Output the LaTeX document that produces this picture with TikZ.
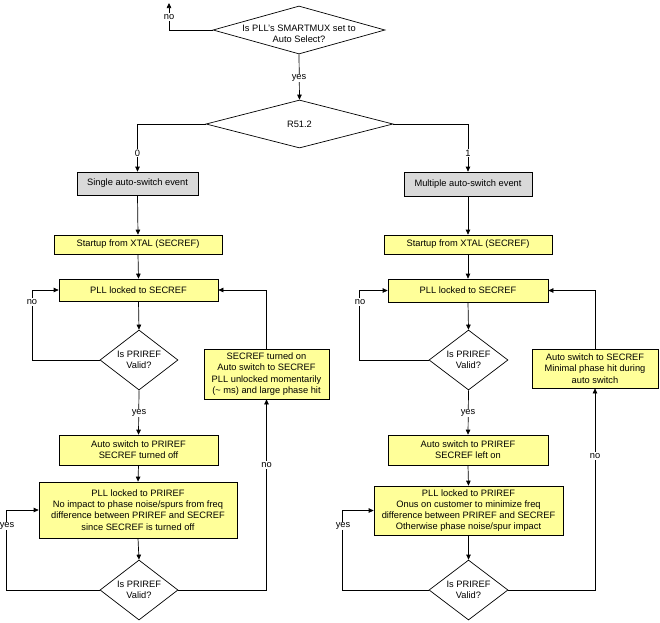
\documentclass[tikz,border=0pt]{standalone}
\usepackage{fontspec}
\setmainfont{Liberation Sans}
\usetikzlibrary{arrows.meta,shapes.geometric}
\definecolor{boxyellow}{HTML}{FFFF99}
\definecolor{boxgray}{HTML}{D9D9D9}
\tikzset{
  base/.style={draw=black, line width=0.7pt, inner sep=0pt, align=center,
    font=\fontsize{9.3}{11.2}\selectfont},
  ybox/.style={base, rectangle, fill=boxyellow},
  gbox/.style={base, rectangle, fill=boxgray},
  dia/.style={base, diamond, fill=white},
  txt/.style={inner sep=0pt, align=center, font=\fontsize{9.3}{11.2}\selectfont},
  lbl/.style={inner sep=1pt, fill=white, font=\fontsize{9.3}{11.2}\selectfont},
  arr/.style={draw=black, line width=0.7pt, -{Triangle[length=5pt,width=4.5pt]}},
  ln/.style={draw=black, line width=0.7pt}
}
\begin{document}
\begin{tikzpicture}[x=1pt,y=-1pt]
\useasboundingbox (0,0) rectangle (660,622);
% top decisions
\node[dia, minimum width=172pt, minimum height=48pt] (d0) at (299,30) {};
\node[txt] (d0t) at (299,34) {Is PLL's SMARTMUX set to\\Auto Select?};
\node[dia, minimum width=187pt, minimum height=48pt] (d1) at (299.5,124) {};
\node[txt] (d1t) at (299.5,124) {R51.2};
\coordinate (noend) at (169,3);
% gray boxes
\node[gbox, minimum width=121pt, minimum height=23pt] (gL) at (137.5,183.5) {Single auto-switch event};
\node[gbox, minimum width=128pt, minimum height=24pt] (gR) at (468,184) {Multiple auto-switch event};
% startup
\node[ybox, minimum width=168pt, minimum height=19pt] (sL) at (138,244.5) {Startup from XTAL (SECREF)};
\node[ybox, minimum width=168pt, minimum height=19pt] (sR) at (468,244.5) {Startup from XTAL (SECREF)};
% PLL locked to SECREF
\node[ybox, minimum width=159pt, minimum height=22pt] (pL) at (138.5,290) {PLL locked to SECREF};
\node[ybox, minimum width=160pt, minimum height=23pt] (pR) at (468,290.5) {PLL locked to SECREF};
% valid diamonds
\node[dia, minimum width=78pt, minimum height=60pt] (vL) at (139,360) {};
\node[txt] (vLt) at (139,360) {Is PRIREF\\Valid?};
\node[dia, minimum width=79pt, minimum height=60pt] (vR) at (468.5,360) {};
\node[txt] (vRt) at (468.5,360) {Is PRIREF\\Valid?};
% side boxes
\node[ybox, minimum width=125pt, minimum height=50pt] (xL) at (266.5,374) {SECREF turned on\\Auto switch to SECREF\\PLL unlocked momentarily\\(\textasciitilde{} ms) and large phase hit};
\node[ybox, minimum width=126pt, minimum height=39pt] (xR) at (595,368.5) {Auto switch to SECREF\\Minimal phase hit during\\auto switch};
% auto switch to PRIREF
\node[ybox, minimum width=159pt, minimum height=30pt] (aL) at (138.5,450) {Auto switch to PRIREF\\SECREF turned off};
\node[ybox, minimum width=160pt, minimum height=30pt] (aR) at (468,450) {Auto switch to PRIREF\\SECREF left on};
% PLL locked to PRIREF
\node[ybox, minimum width=198pt, minimum height=56pt] (bL) at (138,510) {PLL locked to PRIREF\\No impact to phase noise/spurs from freq\\difference between PRIREF and SECREF\\since SECREF is turned off};
\node[ybox, minimum width=189pt, minimum height=49pt] (bR) at (468.5,510.5) {PLL locked to PRIREF\\Onus on customer to minimize freq\\difference between PRIREF and SECREF\\Otherwise phase noise/spur impact};
% bottom diamonds
\node[dia, minimum width=78pt, minimum height=60pt] (wL) at (139,590) {};
\node[txt] (wLt) at (139,590) {Is PRIREF\\Valid?};
\node[dia, minimum width=79pt, minimum height=60pt] (wR) at (468.5,590) {};
\node[txt] (wRt) at (468.5,590) {Is PRIREF\\Valid?};

% connectors top
\draw[arr] (d0.west) -| (noend);
\node[lbl] at (169,17) {no};
\draw[arr] (d0.south) -- (d1.north);
\node[lbl] at (299,78) {yes};
\draw[arr] (d1.west) -| (gL.north);
\node[lbl] at (137.5,153) {0};
\draw[arr] (d1.east) -| (gR.north);
\node[lbl] at (468,153) {1};

% left column
\draw[arr] (gL.south) -- (sL.north);
\draw[arr] (sL.south) -- (pL.north);
\draw[arr] (pL.south) -- (vL.north);
\draw[arr] (vL.west) -- ++(-67,0) |- (pL.west);
\node[lbl] at (32,302) {no};
\draw[arr] (vL.south) -- (aL.north);
\node[lbl] at (139,413) {yes};
\draw[arr] (aL.south) -- (bL.north);
\draw[arr] (bL.south) -- (wL.north);
\draw[arr] (wL.west) -- ++(-93,0) |- (bL.west);
\node[lbl] at (7,526) {yes};
\draw[arr] (wL.east) -| (xL.south);
\node[lbl] at (266.5,465) {no};
\draw[arr] (xL.north) |- (pL.east);

% right column
\draw[arr] (gR.south) -- (sR.north);
\draw[arr] (sR.south) -- (pR.north);
\draw[arr] (pR.south) -- (vR.north);
\draw[arr] (vR.west) -- ++(-69,0) |- (pR.west);
\node[lbl] at (360,302) {no};
\draw[arr] (vR.south) -- (aR.north);
\node[lbl] at (468,413) {yes};
\draw[arr] (aR.south) -- (bR.north);
\draw[arr] (bR.south) -- (wR.north);
\draw[arr] (wR.west) -- ++(-86,0) |- (bR.west);
\node[lbl] at (343,526) {yes};
\draw[arr] (wR.east) -| (xR.south);
\node[lbl] at (595,456) {no};
\draw[arr] (xR.north) |- (pR.east);
\end{tikzpicture}
\end{document}
